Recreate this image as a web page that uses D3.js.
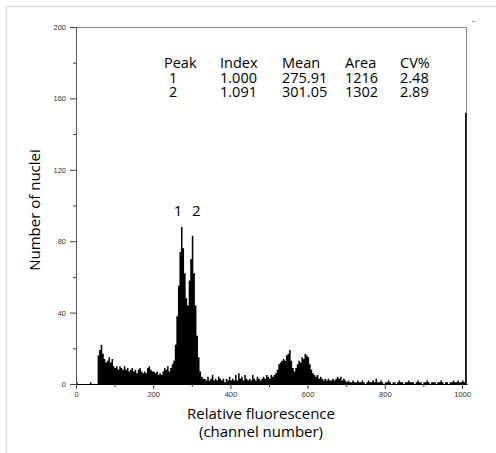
<!DOCTYPE html>
<html>
<head>
<meta charset="utf-8">
<script src="https://cdn.jsdelivr.net/npm/d3@7"></script>
<style>
  body { margin: 0; background: #fff; }
  svg { display: block; }
</style>
</head>
<body>
<svg id="chart" width="496" height="453"></svg>
<script>
// histogram, one value per 4 channels
const binWidth = 4;
const counts = [
  1,0,0,0,0,0,0,0,0,1,
  0,0,0,0,16,19,22,17,14,12,
  13,15,12,14,10,9,10,8,10,9,
  8,10,8,9,7,8,9,7,8,6,
  8,9,7,6,7,6,9,10,8,7,
  7,6,7,5,6,5,7,9,8,10,
  7,9,11,13,22,38,55,74,88,76,
  62,48,44,58,70,83,62,44,27,15,
  7,4,3,3,2,4,2,3,5,2,
  3,2,4,3,2,3,1,3,2,4,
  2,3,2,5,2,6,3,4,2,5,
  3,2,3,2,5,3,2,4,3,2,
  3,4,3,5,4,3,5,4,5,6,
  8,11,12,13,14,13,16,17,19,13,
  9,7,9,11,13,12,15,14,17,16,
  15,11,8,6,5,4,5,3,4,3,
  2,3,2,3,2,2,3,2,3,4,
  3,4,2,3,2,1,2,1,1,2,
  1,1,2,1,1,2,1,0,1,2,
  1,1,2,1,3,1,1,2,1,0,
  1,1,2,1,0,1,1,0,1,2,
  1,1,0,1,1,2,1,1,1,0,
  1,2,1,1,0,1,1,2,1,0,
  1,1,1,0,1,1,2,1,0,1,
  1,0,1,1,2,1,1,2,1,1,
  2,1,152
];

const xTicks = [0, 200, 400, 600, 800, 1000];
const xMinor = [100, 300, 500, 700, 900];
const yTicks = [0, 40, 80, 120, 160, 200];
const yMinor = [20, 60, 100, 140, 180];

const peakHeader = ['Peak', 'Index', 'Mean', 'Area', 'CV%'];
const peakRows = [
  ['1', '1.000', '275.91', '1216', '2.48'],
  ['2', '1.091', '301.05', '1302', '2.89']
];
const peakMeans = [275.91, 301.05];

const svg = d3.select('#chart');
const textFont = '"Open Sans", sans-serif';
const tickFont = '"Liberation Sans", Arial, sans-serif';

// outer light frame
svg.append('rect')
  .attr('x', 6.5).attr('y', 6.5)
  .attr('width', 600).attr('height', 600)
  .attr('fill', 'none')
  .attr('stroke', '#dedede')
  .attr('stroke-width', 1.5);

const x = d3.scaleLinear().domain([0, 1013]).range([76, 467]);
const y = d3.scaleLinear().domain([0, 200]).range([384, 27]);

const bins = counts.map((n, i) => ({ ch: i * binWidth, n }));
bins.push({ ch: counts.length * binWidth, n: counts[counts.length - 1] });

// plot frame top and right
svg.append('path')
  .attr('d', `M${x.range()[0]},${y(200) + 0.5}H${x.range()[1] - 0.5}V${y(0)}`)
  .attr('fill', 'none')
  .attr('stroke', '#8a8a8a')
  .attr('stroke-width', 1);

// histogram
const area = d3.area()
  .curve(d3.curveStepAfter)
  .x(d => x(d.ch))
  .y0(y(0))
  .y1(d => y(d.n));

svg.append('path')
  .datum(bins)
  .attr('fill', '#000')
  .attr('d', area);

// axes
function styleAxis(g) {
  g.selectAll('text')
    .attr('font-family', tickFont)
    .attr('font-size', '7.5px')
    .attr('fill', '#333');
  g.selectAll('line').attr('stroke', '#444');
}

svg.append('g')
  .attr('transform', `translate(${x(0)},0)`)
  .call(d3.axisLeft(y).tickValues(yTicks).tickSize(6).tickPadding(4)
    .tickSizeOuter(0).tickFormat(d3.format('d')))
  .call(styleAxis)
  .call(g => g.select('.domain').attr('stroke', '#555'));

svg.append('g')
  .attr('transform', `translate(${x(0)},0)`)
  .call(d3.axisLeft(y).tickValues(yMinor).tickSize(3).tickFormat(''))
  .call(g => g.select('.domain').remove())
  .call(styleAxis);

svg.append('g')
  .attr('transform', `translate(0,${y(0)})`)
  .call(d3.axisBottom(x).tickValues(xTicks).tickSize(5).tickPadding(3)
    .tickSizeOuter(0).tickFormat(d3.format('d')))
  .call(styleAxis)
  .call(g => g.select('.domain').attr('stroke', '#000'));

svg.append('g')
  .attr('transform', `translate(0,${y(0)})`)
  .call(d3.axisBottom(x).tickValues(xMinor).tickSize(3).tickFormat(''))
  .call(g => g.select('.domain').remove())
  .call(styleAxis);

// axis titles
svg.append('text')
  .attr('x', 261).attr('y', 419)
  .attr('text-anchor', 'middle')
  .attr('font-family', textFont).attr('font-size', '15px')
  .text('Relative fluorescence');
svg.append('text')
  .attr('x', 261).attr('y', 437)
  .attr('text-anchor', 'middle')
  .attr('font-family', textFont).attr('font-size', '15px')
  .text('(channel number)');

svg.append('text')
  .attr('transform', 'translate(40,210) rotate(-90)')
  .attr('text-anchor', 'middle')
  .attr('font-family', textFont).attr('font-size', '15px')
  .text('Number of nuclei');

// peak table
const colX = [164, 220, 282, 345, 400];
const table = svg.append('g')
  .attr('font-family', textFont).attr('font-size', '14.5px');

table.selectAll('text.head')
  .data(peakHeader)
  .enter().append('text')
    .attr('class', 'head')
    .attr('x', (d, i) => colX[i])
    .attr('y', 67.5)
    .text(d => d);

peakRows.forEach((row, r) => {
  table.selectAll(`text.row${r}`)
    .data(row)
    .enter().append('text')
      .attr('class', `row${r}`)
      .attr('x', (d, i) => colX[i] + (i === 0 ? 5 : 0))
      .attr('y', 82.5 + r * 14.2)
      .text(d => d);
});

// peak labels
svg.selectAll('text.peak')
  .data(peakMeans)
  .enter().append('text')
    .attr('class', 'peak')
    .attr('x', (d, i) => x(d) + (i === 0 ? -4.5 : 4))
    .attr('y', 216)
    .attr('text-anchor', 'middle')
    .attr('font-family', textFont).attr('font-size', '15px')
    .text((d, i) => i + 1);

// small stray mark at top right of the frame
svg.append('line')
  .attr('x1', 472).attr('x2', 475)
  .attr('y1', 21.5).attr('y2', 21.5)
  .attr('stroke', '#999');
</script>
</body>
</html>
